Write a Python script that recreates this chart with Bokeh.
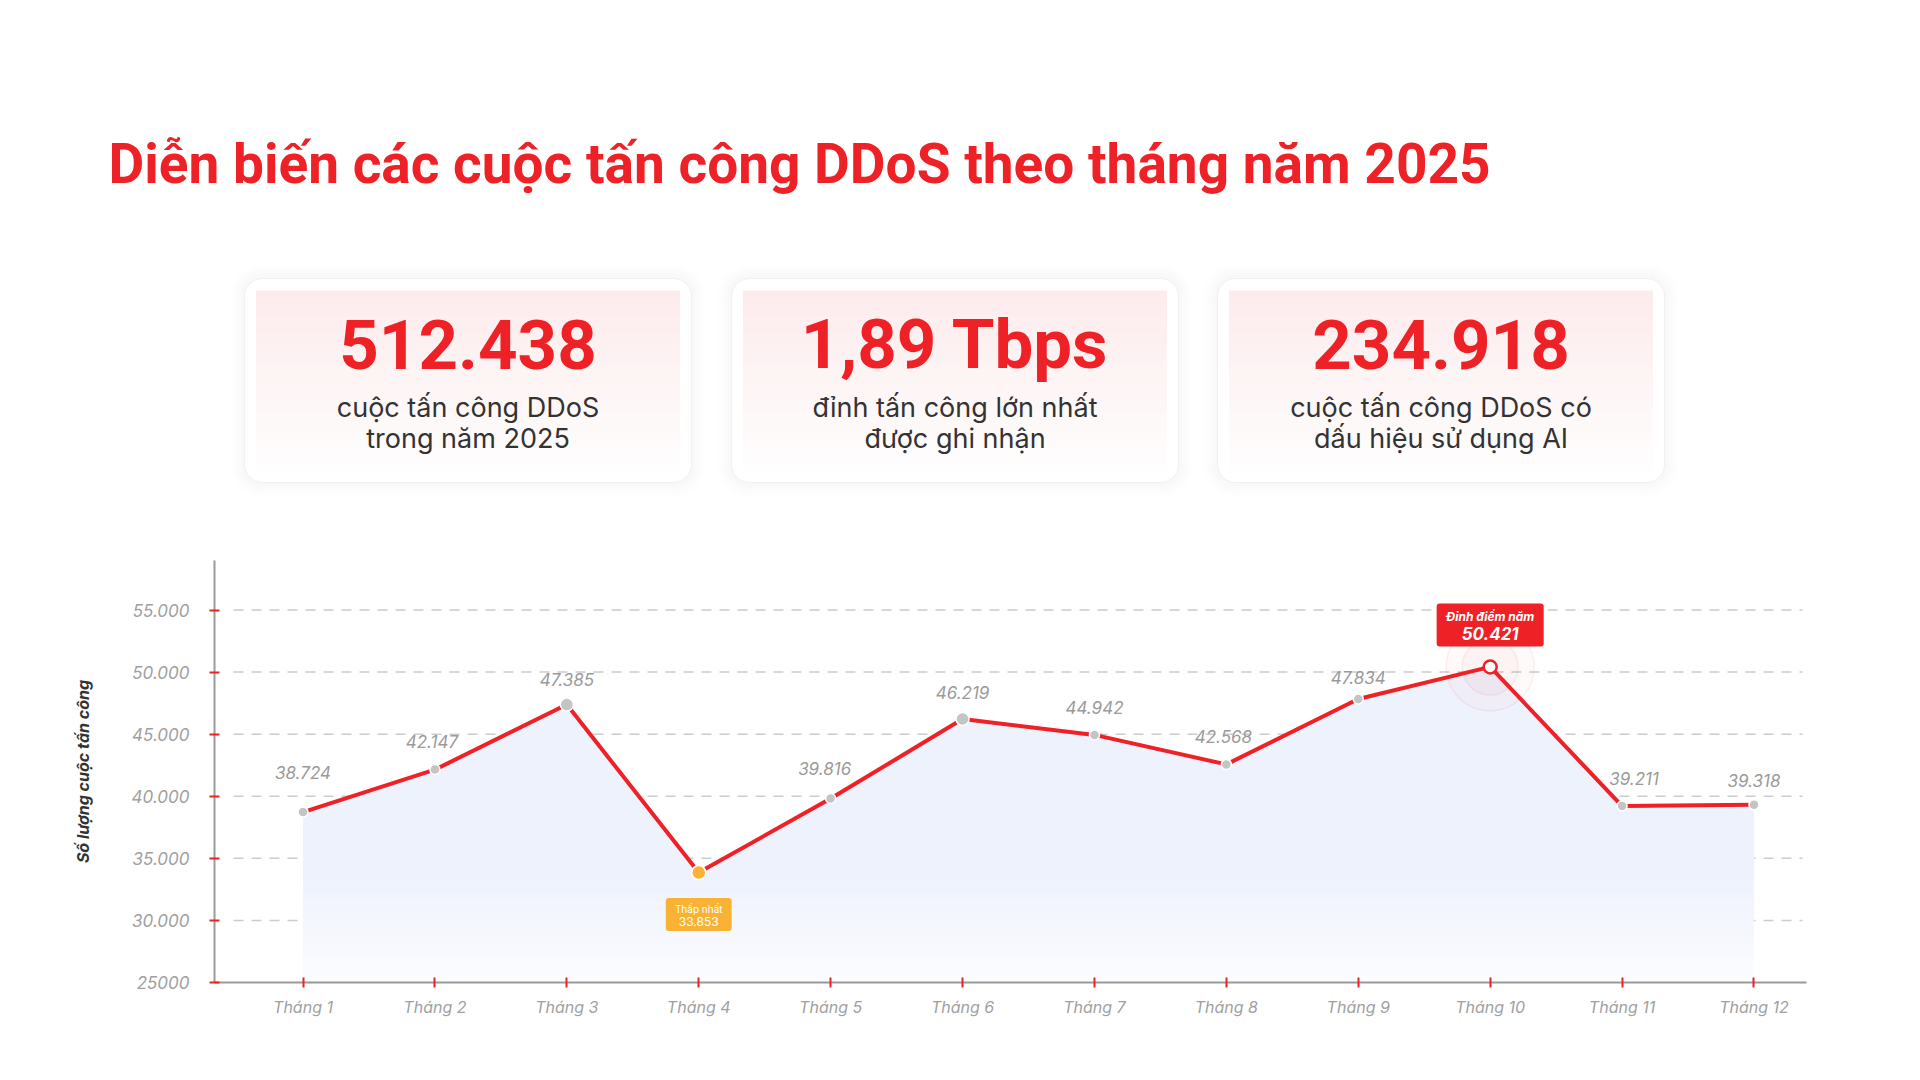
import numpy as np
from bokeh.plotting import figure
from bokeh.models import Range1d, FixedTicker, Label
from bokeh.layouts import column
from bokeh.embed import file_html
from bokeh.resources import INLINE
from bokeh.core.properties import value

# ---------------- data ----------------
title_text = "Diễn biến các cuộc tấn công DDoS theo tháng năm 2025"
stat_values = ["512.438", "1,89 Tbps", "234.918"]
stat_line1 = ["cuộc tấn công DDoS", "đỉnh tấn công lớn nhất", "cuộc tấn công DDoS có"]
stat_line2 = ["trong năm 2025", "được ghi nhận", "dấu hiệu sử dụng AI"]

months = list(range(1, 13))
month_labels = [f"Tháng {m}" for m in months]
attacks = [38724, 42147, 47385, 33853, 39816, 46219, 44942, 42568, 47834, 50421, 39211, 39318]
y_ticks = [25000, 30000, 35000, 40000, 45000, 50000, 55000]
y_tick_labels = ["25000", "30.000", "35.000", "40.000", "45.000", "50.000", "55.000"]
y_axis_title = "Số lượng cuộc tấn công"
low_title = "Thấp nhất"
peak_title = "Đỉnh điểm năm"

# ---------------- style ----------------
RED = "#ee2127"
ORANGE = "#f9b233"
FONT = "Inter"

def fmt(v):
    return f"{v:,}".replace(",", ".")

i_min = int(np.argmin(attacks))
i_max = int(np.argmax(attacks))

W = 1920
LEFT, RIGHT = 214, 114

# ================= top part (title + cards) =================
top = figure(width=W, height=540, x_range=Range1d(0, W), y_range=Range1d(540, 0),
             output_backend="svg", toolbar_location=None, min_border=0,
             x_axis_location=None, y_axis_location=None, outline_line_color=None,
             background_fill_color="white", border_fill_color="white")
top.frame_align = False
top.grid.visible = False

top.text(x=[108], y=[163], text=[title_text], text_font=value("Roboto"), text_font_style="bold",
         text_font_size="55px", text_color=RED, text_baseline="alphabetic", text_align="left")

card_cx = [467.5, 954.5, 1440.5]
for k, cx in enumerate(card_cx):
    # soft shadow
    for s in range(1, 8):
        top.quad(left=cx - 223.5 - 2 * s, right=cx + 223.5 + 2 * s, top=278 - 2 * s, bottom=482 + 2 * s,
                 fill_color="#dde1ec", fill_alpha=0.035, line_color=None, border_radius=18 + 2 * s)
    top.quad(left=cx - 223.5, right=cx + 223.5, top=278, bottom=482, fill_color="white",
             line_color="#f0f1f5", line_width=1, border_radius=18)
    # inner pink gradient panel
    nb = 30
    y0, y1 = 290, 472
    c_top = np.array([253, 236, 237])
    c_bot = np.array([255, 254, 254])
    lefts, rights, tops, bottoms, cols = [], [], [], [], []
    for b in range(nb):
        t = b / (nb - 1)
        c = (c_top * (1 - t) + c_bot * t).astype(int)
        lefts.append(cx - 212)
        rights.append(cx + 212)
        tops.append(y0 + (y1 - y0) * b / nb)
        bottoms.append(y0 + (y1 - y0) * (b + 1) / nb + 0.6)
        cols.append("#%02x%02x%02x" % tuple(c))
    top.quad(left=lefts, right=rights, top=tops, bottom=bottoms, fill_color=cols, line_color=None)

top.text(x=card_cx, y=[344] * 3, text=stat_values, text_font=value("Roboto"), text_font_style="bold",
         text_font_size="69px", text_color=RED, text_align="center", text_baseline="alphabetic")
top.text(x=card_cx, y=[407] * 3, text=stat_line1, text_font=value(FONT), text_font_size="27px",
         text_color="#333333", text_align="center", text_baseline="alphabetic")
top.text(x=card_cx, y=[438] * 3, text=stat_line2, text_font=value(FONT), text_font_size="27px",
         text_color="#333333", text_align="center", text_baseline="alphabetic")

# ================= chart =================
step = 131.9
x_start = 1 - 88.5 / step
x_end = 12 + 52.5 / step
chart = figure(width=W, height=540, x_range=Range1d(x_start, x_end), y_range=Range1d(25000, 58990),
               output_backend="svg", toolbar_location=None,
               min_border_left=LEFT, min_border_right=RIGHT, min_border_top=20, min_border_bottom=98,
               outline_line_color=None, background_fill_color="white", border_fill_color="white")
chart.frame_align = False
chart.xgrid.visible = False
chart.ygrid.visible = False

# axes
for ax in (chart.xaxis[0], chart.yaxis[0]):
    ax.axis_line_color = "#9a9a9a"
    ax.axis_line_width = 2
    ax.major_tick_line_color = RED
    ax.major_tick_line_width = 2
    ax.major_tick_in = 5
    ax.major_tick_out = 5
    ax.minor_tick_line_color = None
    ax.major_label_text_font = FONT
    ax.major_label_text_font_style = "italic"
    ax.major_label_text_color = "#a0a0a0"

chart.xaxis.ticker = FixedTicker(ticks=months)
chart.xaxis.major_label_overrides = {m: l for m, l in zip(months, month_labels)}
chart.xaxis.major_label_text_font_size = "16px"
chart.xaxis.major_label_standoff = 9

chart.yaxis.ticker = FixedTicker(ticks=y_ticks)
chart.yaxis.major_label_overrides = {t: l for t, l in zip(y_ticks, y_tick_labels)}
chart.yaxis.major_label_text_font_size = "17px"
chart.yaxis.major_label_standoff = 20
chart.yaxis.axis_label = y_axis_title
chart.yaxis.axis_label_text_font = FONT
chart.yaxis.axis_label_text_font_style = "bold italic"
chart.yaxis.axis_label_text_font_size = "16px"
chart.yaxis.axis_label_text_color = "#333333"
chart.yaxis.axis_label_standoff = 36

# dashed grid lines (start a little right of the axis)
gy = y_ticks[1:]
chart.segment(x0=[x_start + 19 / step] * len(gy), x1=[x_end - 4 / step] * len(gy), y0=gy, y1=gy,
              line_color="#cccccc", line_width=1.5, line_dash="10 8")

# area under the line
chart.varea(x=months, y1=[25000] * len(months), y2=attacks, fill_color="#eef2fd")
# fade to white toward the bottom (below the lowest value)
floor = min(attacks)
nf = 16
hb = (floor - 25000) / nf
for b in range(nf):
    chart.quad(left=months[0], right=months[-1], bottom=25000 + b * hb, top=25000 + (b + 1) * hb + 10,
               fill_color="white", fill_alpha=0.75 * (1 - b / nf), line_color=None)

# halo around the peak
chart.scatter(x=[months[i_max]], y=[attacks[i_max]], size=88, fill_color=RED, fill_alpha=0.025,
              line_color=RED, line_alpha=0.07, line_width=1.5)
chart.scatter(x=[months[i_max]], y=[attacks[i_max]], size=56, fill_color=RED, fill_alpha=0.03,
              line_color=RED, line_alpha=0.08, line_width=1.5)

chart.line(months, attacks, line_color=RED, line_width=4)

pt_fill = ["#c4c4c4"] * 12
pt_line = ["white"] * 12
pt_lw = [1.5] * 12
pt_size = [10, 10, 13, 14, 10, 13, 10, 10, 10, 13, 10, 10]
pt_fill[i_min] = ORANGE
pt_fill[i_max] = "white"
pt_line[i_max] = RED
pt_lw[i_max] = 2.5
chart.scatter(x=months, y=attacks, size=pt_size, fill_color=pt_fill, line_color=pt_line, line_width=pt_lw)

# value labels
lab_dy = [40, 28, 25, 0, 30, 27, 27, 28, 22, 0, 28, 24]
lab_dx = [0, -3, 0, 0, -6, 0, 0, -3, 0, 0, 12, 0]
idx = [i for i in range(12) if i not in (i_min, i_max)]
chart.text(x=[months[i] for i in idx], y=[attacks[i] for i in idx], text=[fmt(attacks[i]) for i in idx],
           x_offset=[lab_dx[i] for i in idx], y_offset=[-lab_dy[i] for i in idx],
           text_font=value(FONT), text_font_style="italic", text_font_size="17px",
           text_color="#9a9a9a", text_align="center", text_baseline="middle")

# lowest callout (box = text + padding, centred on the anchor)
chart.add_layout(Label(x=months[i_min], y=attacks[i_min], text=fmt(attacks[i_min]), y_offset=-42,
                       text_align="center", text_baseline="middle", text_font=FONT,
                       text_font_size="12px", text_color="white",
                       background_fill_color=ORANGE, border_radius=3,
                       padding=dict(left=13, right=13, top=19, bottom=5)))
chart.add_layout(Label(x=months[i_min], y=attacks[i_min], text=low_title, y_offset=-36,
                       text_align="center", text_baseline="middle", text_font=FONT,
                       text_font_size="10px", text_color="white"))

# peak callout
chart.add_layout(Label(x=months[i_max], y=attacks[i_max], text=fmt(attacks[i_max]), y_offset=42,
                       text_align="center", text_baseline="middle", text_font=FONT,
                       text_font_style="bold italic", text_font_size="17px", text_color="white",
                       background_fill_color=RED, border_radius=3,
                       padding=dict(left=25, right=25, top=24, bottom=6)))
chart.add_layout(Label(x=months[i_max], y=attacks[i_max], text=peak_title, y_offset=50,
                       text_align="center", text_baseline="middle", text_font=FONT,
                       text_font_style="bold italic", text_font_size="12px", text_color="white"))

layout = column(top, chart, spacing=0)
open("out.html", "w").write(file_html(layout, INLINE))
